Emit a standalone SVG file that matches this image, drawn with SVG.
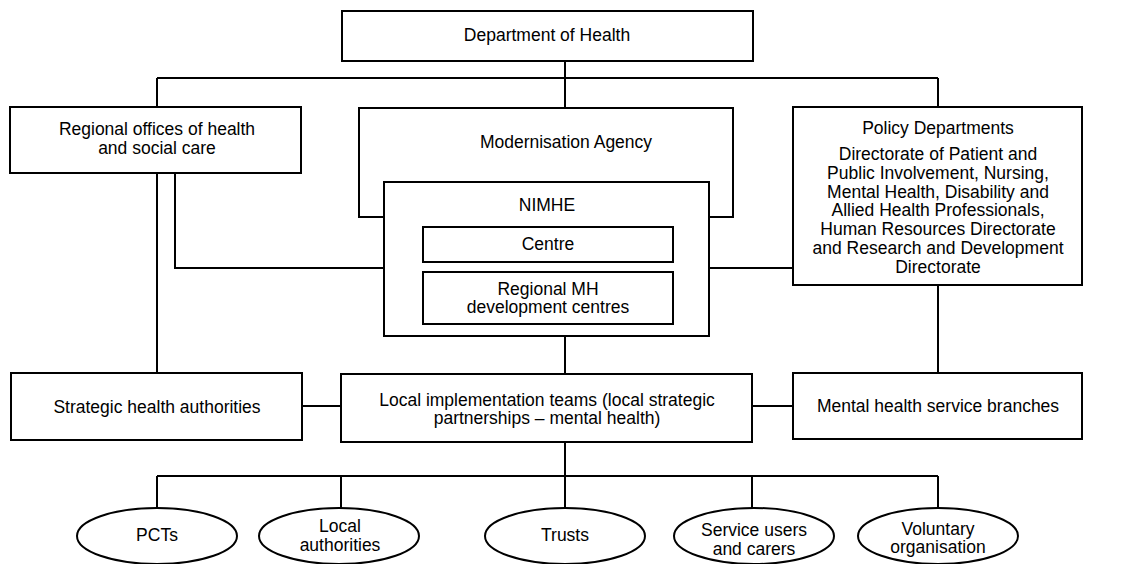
<svg xmlns="http://www.w3.org/2000/svg" width="1122" height="564" viewBox="0 0 1122 564">
<style>
.b{fill:#fff;stroke:#000;stroke-width:2}
.c{fill:none;stroke:#000;stroke-width:2}
text{font-family:"Liberation Sans",Arial,sans-serif;font-size:17.5px;fill:#000;text-anchor:middle}
</style>
<rect width="1122" height="564" fill="#fff"/>
<g id="connectors" class="c">
<path d="M565 61V108M157 78H938M157 78V373M938 78V107M175 173V268H384M709 268H793M938 285V373M565 336V374M302 406H341M752 406H793M565 442V476M157 476H938M157 476V508M341 476V508M565 476V508M752 476V508M938 476V508"/>
</g>
<g id="doh"><rect class="b" x="342" y="11" width="411" height="50"/><text x="547" y="41">Department of Health</text></g>
<g id="regional"><rect class="b" x="10" y="107" width="291" height="66"/><text x="157" y="135">Regional offices of health</text><text x="157" y="154">and social care</text></g>
<g id="modernisation"><rect class="b" x="359" y="108" width="374" height="109"/><text x="566" y="148">Modernisation Agency</text></g>
<g id="nimhe"><rect class="b" x="384" y="182" width="325" height="154"/><text x="547" y="211">NIMHE</text></g>
<g id="centre"><rect class="b" x="423" y="227" width="250" height="35"/><text x="548" y="250">Centre</text></g>
<g id="regmh"><rect class="b" x="423" y="272" width="250" height="52"/><text x="548" y="295">Regional MH</text><text x="548" y="313">development centres</text></g>
<g id="policy"><rect class="b" x="793" y="107" width="289" height="178"/><text x="938" y="134">Policy Departments</text><text x="938" y="160">Directorate of Patient and</text><text x="938" y="179">Public Involvement, Nursing,</text><text x="938" y="198">Mental Health, Disability and</text><text x="938" y="216">Allied Health Professionals,</text><text x="938" y="235">Human Resources Directorate</text><text x="938" y="254">and Research and Development</text><text x="938" y="273">Directorate</text></g>
<g id="sha"><rect class="b" x="11" y="373" width="291" height="67"/><text x="157" y="413">Strategic health authorities</text></g>
<g id="lit"><rect class="b" x="341" y="374" width="411" height="68"/><text x="547" y="406">Local implementation teams (local strategic</text><text x="547" y="424">partnerships – mental health)</text></g>
<g id="mhsb"><rect class="b" x="793" y="373" width="289" height="66"/><text x="938" y="412">Mental health service branches</text></g>
<g id="pcts"><ellipse class="b" cx="157" cy="536" rx="80" ry="28"/><text x="157" y="541">PCTs</text></g>
<g id="la"><ellipse class="b" cx="339" cy="536" rx="80" ry="28"/><text x="340" y="532">Local</text><text x="340" y="551">authorities</text></g>
<g id="trusts"><ellipse class="b" cx="565" cy="536" rx="80" ry="28"/><text x="565" y="541">Trusts</text></g>
<g id="users"><ellipse class="b" cx="754" cy="536" rx="80" ry="28"/><text x="754" y="536">Service users</text><text x="754" y="555">and carers</text></g>
<g id="vol"><ellipse class="b" cx="938" cy="536" rx="80" ry="28"/><text x="938" y="535">Voluntary</text><text x="938" y="553">organisation</text></g>
</svg>
